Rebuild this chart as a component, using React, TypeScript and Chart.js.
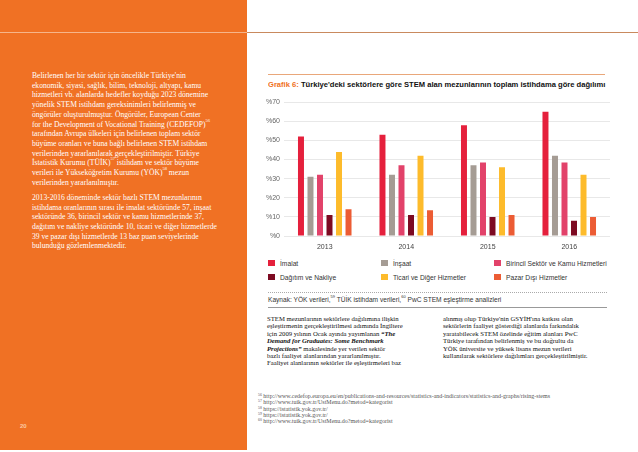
import React, { useEffect, useRef } from "react";
import { Chart, registerables } from "chart.js";

Chart.register(...registerables);

const categories = ["2013", "2014", "2015", "2016"];
const imalat = [52, 53, 58, 65];
const insaat = [31, 32, 37, 42];
const birincil = [32, 37, 38.5, 38.5];
const dagitim = [11, 11, 10, 8];
const ticari = [44, 42, 36, 32];
const pazar = [14, 13.5, 11, 10];
const seriesNames = [
  "İmalat",
  "İnşaat",
  "Birincil Sektör ve Kamu Hizmetleri",
  "Dağıtım ve Nakliye",
  "Ticari ve Diğer Hizmetler",
  "Pazar Dışı Hizmetler",
];
const seriesColors = ["#E5203C", "#A59C94", "#E2426A", "#7D0A22", "#FDBB2B", "#EC5C34"];
const yMin = 0;
const yMax = 70;
const yStep = 10;

const sidebarPara1 = [
  "Belirlenen her bir sektör için öncelikle Türkiye'nin",
  "ekonomik, siyasi, sağlık, bilim, teknoloji, altyapı, kamu",
  "hizmetleri vb. alanlarda hedefler koyduğu 2023 dönemine",
  "yönelik STEM istihdam gereksinimleri belirlenmiş ve",
  "öngörüler oluşturulmuştur. Öngörüler, European Center",
  "for the Development of Vocational Training (CEDEFOP)|56",
  "tarafından Avrupa ülkeleri için belirlenen toplam sektör",
  "büyüme oranları ve buna bağlı belirlenen STEM istihdam",
  "verilerinden yararlanılarak gerçekleştirilmiştir. Türkiye",
  "İstatistik Kurumu (TÜİK)|57| istihdam ve sektör büyüme",
  "verileri ile Yükseköğretim Kurumu (YÖK)|58|  mezun",
  "verilerinden yararlanılmıştır.",
];
const sidebarPara2 = [
  "2013-2016 döneminde sektör bazlı STEM mezunlarının",
  "istihdama oranlarının sırası ile imalat sektöründe 57, inşaat",
  "sektöründe 36, birincil sektör ve kamu hizmetlerinde 37,",
  "dağıtım ve nakliye sektöründe 10, ticari ve diğer hizmetlerde",
  "39 ve pazar dışı hizmetlerde 13 baz puan seviyelerinde",
  "bulunduğu gözlemlenmektedir.",
];
const bodyCol1 = [
  "STEM mezunlarının sektörlere dağılımına ilişkin",
  "eşleştirmenin gerçekleştirilmesi adımında İngiltere",
  "için 2009 yılının Ocak ayında yayımlanan “The",
  "#Demand for Graduates: Some Benchmark",
  "#Projections”| makalesinde yer verilen sektör",
  "bazlı faaliyet alanlarından yararlanılmıştır.",
  "Faaliyet alanlarının sektörler ile eşleştirmeleri baz",
];
const bodyCol2 = [
  "alınmış olup Türkiye'nin GSYİH'ına katkısı olan",
  "sektörlerin faaliyet gösterdiği alanlarda farkındalık",
  "yaratabilecek STEM özelinde eğitim alanları PwC",
  "Türkiye tarafından belirlenmiş ve bu doğrultu da",
  "YÖK üniversite ve yüksek lisans mezun verileri",
  "kullanılarak sektörlere dağılımları gerçekleştirilmiştir.",
];
const footnotes = [
  ["56", "http://www.cedefop.europa.eu/en/publications-and-resources/statistics-and-indicators/statistics-and-graphs/rising-stems"],
  ["57", "http://www.tuik.gov.tr/UstMenu.do?metod=kategorist"],
  ["58", "https://istatistik.yok.gov.tr/"],
  ["59", "https://istatistik.yok.gov.tr/"],
  ["60", "http://www.tuik.gov.tr/UstMenu.do?metod=kategorist"],
];

const SANS = "'Liberation Sans', Arial, sans-serif";
const SERIF = "'Liberation Serif', 'Times New Roman', serif";

function renderSup(line: string, supSize: number) {
  const parts = line.split("|");
  return parts.map((p, i) =>
    i % 2 === 1 ? (
      <sup key={i} style={{ fontSize: supSize, verticalAlign: "top", lineHeight: 1, position: "relative", top: -1 }}>
        {p}
      </sup>
    ) : (
      <span key={i}>{p}</span>
    )
  );
}

function BarChart() {
  const ref = useRef<HTMLCanvasElement | null>(null);
  useEffect(() => {
    if (!ref.current) return;
    const series = [imalat, insaat, birincil, dagitim, ticari, pazar];
    const chart = new Chart(ref.current, {
      type: "bar",
      data: {
        labels: categories,
        datasets: series.map((d, i) => ({
          label: seriesNames[i],
          data: d,
          backgroundColor: seriesColors[i],
          borderWidth: 0,
          categoryPercentage: 0.7,
          barPercentage: 0.63,
        })),
      },
      options: {
        animation: false,
        responsive: false,
        maintainAspectRatio: false,
        layout: { padding: { top: 0, right: 0, left: 0, bottom: 0 } },
        plugins: { legend: { display: false }, tooltip: { enabled: false } },
        scales: {
          x: {
            grid: { display: false, drawTicks: false },
            border: { display: false },
            ticks: { font: { family: SANS, size: 7 }, color: "#444", padding: 7 },
            afterFit: (s: any) => {
              s.height = 16;
            },
          },
          y: {
            min: yMin,
            max: yMax,
            ticks: {
              stepSize: yStep,
              font: { family: SANS, size: 7 },
              color: "#666",
              padding: 4,
              callback: (v: any) => "%" + v,
            },
            grid: { color: "#e2e2e2", lineWidth: 0.8, drawTicks: false },
            border: { display: false },
            afterFit: (s: any) => {
              s.width = 24;
            },
          },
        },
      },
    });
    return () => chart.destroy();
  }, []);
  return (
    <canvas
      ref={ref}
      width={350}
      height={158}
      style={{ position: "absolute", left: 260, top: 94, width: 350, height: 158 }}
    />
  );
}

export default function App() {
  const legendCols = [268, 381, 494];
  const legendRows = [263, 277];
  return (
    <div
      style={{
        position: "absolute",
        left: 0,
        top: 0,
        width: 638,
        height: 452,
        background: "#fff",
        overflow: "hidden",
      }}
    >
      {/* sidebar */}
      <div style={{ position: "absolute", left: 0, top: 0, width: 247, height: 450, background: "#F07124" }} />
      <div style={{ position: "absolute", left: 0, top: 32, width: 247, height: 1, background: "#F6B58A" }} />
      <div style={{ position: "absolute", left: 247, top: 32, width: 391, height: 1, background: "#C98A5E" }} />
      <div
        style={{
          position: "absolute",
          left: 32,
          top: 71,
          fontFamily: SERIF,
          fontSize: 7.6,
          lineHeight: "9.7px",
          color: "#fff",
          whiteSpace: "nowrap",
        }}
      >
        {sidebarPara1.map((l, i) => (
          <div key={i}>{renderSup(l, 4.5)}</div>
        ))}
        <div style={{ height: 5.5 }} />
        {sidebarPara2.map((l, i) => (
          <div key={i}>{l}</div>
        ))}
      </div>
      <div
        style={{
          position: "absolute",
          left: 20,
          top: 423,
          fontFamily: SANS,
          fontSize: 6,
          fontWeight: 700,
          color: "#FBC9A2",
        }}
      >
        20
      </div>

      {/* chart header */}
      <div style={{ position: "absolute", left: 268, top: 74, width: 337, height: 1, background: "#E9A77A" }} />
      <div
        style={{
          position: "absolute",
          left: 268,
          top: 80,
          width: 338,
          overflow: "hidden",
          whiteSpace: "nowrap",
          fontFamily: SANS,
          fontSize: 7.6,
          fontWeight: 700,
          color: "#111",
          lineHeight: "10px",
        }}
      >
        <span style={{ color: "#F07124" }}>Grafik 6: </span>
        Türkiye'deki sektörlere göre STEM alan mezunlarının toplam istihdama göre dağılımı
      </div>

      <BarChart />

      {/* legend */}
      {seriesNames.map((n, i) => {
        const col = i % 3;
        const row = Math.floor(i / 3);
        return (
          <div
            key={n}
            style={{
              position: "absolute",
              left: legendCols[col],
              top: legendRows[row] - 5,
              display: "flex",
              alignItems: "center",
              whiteSpace: "nowrap",
              fontFamily: SANS,
              fontSize: 6.7,
              color: "#333",
              height: 10,
            }}
          >
            <span style={{ display: "inline-block", width: 7, height: 6, background: seriesColors[i], marginRight: 5 }} />
            {n}
          </div>
        );
      })}

      {/* source */}
      <div style={{ position: "absolute", left: 268, top: 292, width: 339, borderTop: "1px dotted #aaa" }} />
      <div
        style={{
          position: "absolute",
          left: 268,
          top: 296,
          fontFamily: SANS,
          fontSize: 6.6,
          color: "#333",
          whiteSpace: "nowrap",
          lineHeight: "8px",
        }}
      >
        {renderSup("Kaynak: YÖK verileri,|59| TÜİK istihdam verileri,|60| PwC STEM eşleştirme analizleri", 4)}
      </div>
      <div style={{ position: "absolute", left: 268, top: 307, width: 339, height: 1, background: "#999" }} />

      {/* body columns */}
      {[bodyCol1, bodyCol2].map((col, ci) => (
        <div
          key={ci}
          style={{
            position: "absolute",
            left: ci === 0 ? 267 : 443,
            top: 315,
            fontFamily: SERIF,
            fontSize: 6.7,
            lineHeight: "7.4px",
            color: "#111",
            whiteSpace: "nowrap",
          }}
        >
          {col.map((l, i) => {
            if (l.startsWith("#")) {
              const [it, rest] = l.slice(1).split("|");
              return (
                <div key={i}>
                  <span style={{ fontStyle: "italic", fontWeight: 700 }}>{it}</span>
                  {rest}
                </div>
              );
            }
            if (l.endsWith("“The")) {
              return (
                <div key={i}>
                  {l.slice(0, -4)}
                  <span style={{ fontStyle: "italic", fontWeight: 700 }}>“The</span>
                </div>
              );
            }
            return <div key={i}>{l}</div>;
          })}
        </div>
      ))}

      {/* footnotes */}
      <div
        style={{
          position: "absolute",
          left: 258,
          top: 393,
          fontFamily: SERIF,
          fontSize: 6,
          lineHeight: "6.3px",
          color: "#555",
          whiteSpace: "nowrap",
        }}
      >
        {footnotes.map(([n, url]) => (
          <div key={n}>
            <span style={{ fontSize: 3.8, verticalAlign: "top", position: "relative", top: -1 }}>{n}</span> {url}
          </div>
        ))}
      </div>
    </div>
  );
}
